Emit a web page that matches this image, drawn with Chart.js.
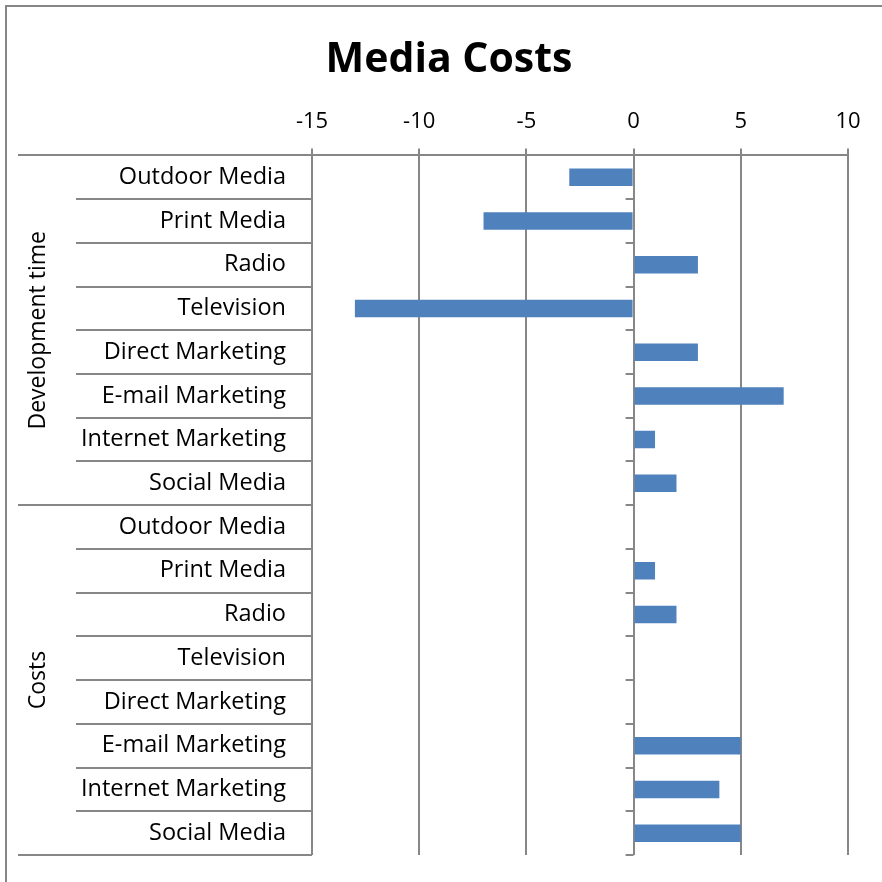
<!DOCTYPE html>
<html>
<head>
<meta charset="utf-8">
<script src="https://cdn.jsdelivr.net/npm/chart.js@4.4.1/dist/chart.umd.min.js"></script>
<style>
  html, body { margin: 0; padding: 0; background: #fff; overflow: hidden; }
  #wrap { width: 882px; height: 882px; position: relative; }
</style>
</head>
<body>
<div id="wrap"><canvas id="myChart" width="882" height="882"></canvas></div>
<script>
// categories, repeated once per group
const media = ['Outdoor Media', 'Print Media', 'Radio', 'Television',
  'Direct Marketing', 'E-mail Marketing', 'Internet Marketing', 'Social Media'];
const groups = ['Development time', 'Costs'];
const developmentTime = [-3, -7, 3, -13, 3, 7, 1, 2];
const costs = [0, 1, 2, 0, 0, 5, 4, 5];
const xTicks = [-15, -10, -5, 0, 5, 10];
const titleText = 'Media Costs';

const labels = media.concat(media);
const values = developmentTime.concat(costs);

const gridColor = '#878787';
const fontFamily = "'Open Sans', 'Liberation Sans', sans-serif";

// draws the frame, title, category labels, group labels and separators
const leftAxis = {
    id: 'leftAxis',
    beforeDraw(chart) {
        const ctx = chart.ctx;
        ctx.save();
        ctx.fillStyle = '#fff';
        ctx.fillRect(0, 0, chart.width, chart.height);
        ctx.strokeStyle = gridColor;
        ctx.lineWidth = 2;
        ctx.strokeRect(6, 6, 1000, 1000);

        // title centred on the whole canvas
        ctx.fillStyle = '#000';
        ctx.font = 'bold 41px ' + fontFamily;
        ctx.textAlign = 'center';
        ctx.textBaseline = 'middle';
        ctx.fillText(titleText, 449, 60);
        ctx.restore();
    },
    afterDraw(chart) {
        const ctx = chart.ctx;
        const y = chart.scales.y;
        const x = chart.scales.x;
        const area = chart.chartArea;
        const zeroX = x.getPixelForValue(0);
        const n = labels.length;
        const perGroup = media.length;
        const step = y.getPixelForValue(1) - y.getPixelForValue(0);

        ctx.save();
        ctx.strokeStyle = gridColor;
        ctx.lineWidth = 2;

        // boundaries between categories
        for (let i = 0; i <= n; i++) {
            let yb;
            if (i === 0) yb = y.getPixelForValue(0) - step / 2;
            else if (i === n) yb = y.getPixelForValue(n - 1) + step / 2;
            else yb = (y.getPixelForValue(i - 1) + y.getPixelForValue(i)) / 2;
            yb = Math.round(yb);
            const startX = (i % perGroup === 0) ? 18 : 76;
            ctx.beginPath();
            ctx.moveTo(startX, yb);
            ctx.lineTo(area.left, yb);
            ctx.stroke();
            // small tick on the zero line
            ctx.beginPath();
            ctx.moveTo(zeroX - 8, yb);
            ctx.lineTo(zeroX, yb);
            ctx.stroke();
        }

        // category labels
        ctx.fillStyle = '#000';
        ctx.font = '23.5px ' + fontFamily;
        ctx.textAlign = 'right';
        ctx.textBaseline = 'middle';
        labels.forEach(function (lab, i) {
            ctx.fillText(lab, 286, y.getPixelForValue(i));
        });

        // group labels, rotated
        ctx.font = '23px ' + fontFamily;
        groups.forEach(function (g, gi) {
            const first = y.getPixelForValue(gi * perGroup);
            const last = y.getPixelForValue(gi * perGroup + perGroup - 1);
            ctx.save();
            ctx.translate(38, (first + last) / 2);
            ctx.rotate(-Math.PI / 2);
            ctx.textAlign = 'center';
            ctx.fillText(g, 0, 0);
            ctx.restore();
        });
        ctx.restore();
    }
};

const chart = new Chart(document.getElementById('myChart').getContext('2d'), {
    type: 'bar',
    data: {
        labels: labels,
        datasets: [{
            label: titleText,
            data: values,
            backgroundColor: '#4F81BD',
            borderWidth: 0,
            categoryPercentage: 1,
            barPercentage: 0.4
        }]
    },
    options: {
        indexAxis: 'y',
        responsive: false,
        animation: false,
        layout: {
            padding: { left: 312, right: 34, top: 96, bottom: 27 }
        },
        plugins: {
            legend: { display: false },
            tooltip: { enabled: false },
            title: { display: false }
        },
        scales: {
            x: {
                position: 'top',
                min: -15,
                max: 10,
                afterBuildTicks: function (axis) {
                    axis.ticks = xTicks.map(function (v) { return { value: v }; });
                },
                grid: {
                    color: gridColor,
                    lineWidth: 2,
                    tickLength: 7,
                    tickColor: gridColor
                },
                border: { display: true, color: gridColor, width: 2 },
                ticks: {
                    color: '#000',
                    padding: 13,
                    maxRotation: 0,
                    font: { family: fontFamily, size: 22 }
                }
            },
            y: {
                display: false
            }
        }
    },
    plugins: [leftAxis]
});
</script>
</body>
</html>
